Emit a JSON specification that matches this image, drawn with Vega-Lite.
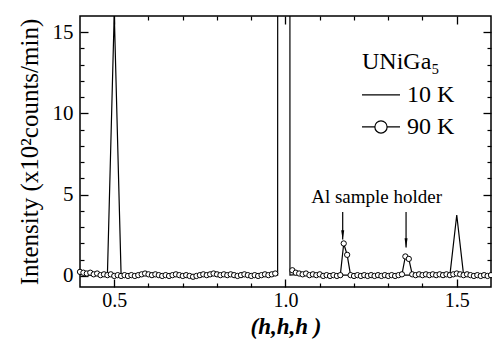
{
  "$schema": "https://vega.github.io/schema/vega-lite/v6.json",
  "width": 411,
  "height": 271,
  "autosize": {"type": "none"},
  "padding": {"left": 80, "top": 16, "right": 1, "bottom": 57},
  "background": "white",
  "datasets": {
    "scan": [
      {"h": 0.40, "v": 0.10, "T": "10 K", "seg": "10 K"},
      {"h": 0.42, "v": 0.05, "T": "10 K", "seg": "10 K"},
      {"h": 0.44, "v": 0.05, "T": "10 K", "seg": "10 K"},
      {"h": 0.46, "v": 0.05, "T": "10 K", "seg": "10 K"},
      {"h": 0.48, "v": 0.05, "T": "10 K", "seg": "10 K"},
      {"h": 0.50, "v": 16.2, "T": "10 K", "seg": "10 K"},
      {"h": 0.52, "v": 0.05, "T": "10 K", "seg": "10 K"},
      {"h": 0.54, "v": 0.05, "T": "10 K", "seg": "10 K"},
      {"h": 0.56, "v": 0.0, "T": "10 K", "seg": "10 K"},
      {"h": 0.58, "v": 0.05, "T": "10 K", "seg": "10 K"},
      {"h": 0.60, "v": 0.05, "T": "10 K", "seg": "10 K"},
      {"h": 0.62, "v": 0.05, "T": "10 K", "seg": "10 K"},
      {"h": 0.64, "v": 0.0, "T": "10 K", "seg": "10 K"},
      {"h": 0.66, "v": 0.05, "T": "10 K", "seg": "10 K"},
      {"h": 0.68, "v": 0.05, "T": "10 K", "seg": "10 K"},
      {"h": 0.70, "v": 0.0, "T": "10 K", "seg": "10 K"},
      {"h": 0.72, "v": 0.05, "T": "10 K", "seg": "10 K"},
      {"h": 0.74, "v": 0.0, "T": "10 K", "seg": "10 K"},
      {"h": 0.76, "v": 0.05, "T": "10 K", "seg": "10 K"},
      {"h": 0.78, "v": 0.05, "T": "10 K", "seg": "10 K"},
      {"h": 0.80, "v": 0.05, "T": "10 K", "seg": "10 K"},
      {"h": 0.82, "v": 0.05, "T": "10 K", "seg": "10 K"},
      {"h": 0.84, "v": 0.05, "T": "10 K", "seg": "10 K"},
      {"h": 0.86, "v": 0.0, "T": "10 K", "seg": "10 K"},
      {"h": 0.88, "v": 0.05, "T": "10 K", "seg": "10 K"},
      {"h": 0.90, "v": 0.0, "T": "10 K", "seg": "10 K"},
      {"h": 0.92, "v": 0.05, "T": "10 K", "seg": "10 K"},
      {"h": 0.94, "v": 0.05, "T": "10 K", "seg": "10 K"},
      {"h": 0.96, "v": 0.05, "T": "10 K", "seg": "10 K"},
      {"h": 0.977, "v": 0.05, "T": "10 K", "seg": "10 K"},
      {"h": 1.00, "v": 2000, "T": "10 K", "seg": "10 K"},
      {"h": 1.013, "v": 0.05, "T": "10 K", "seg": "10 K"},
      {"h": 1.04, "v": 0.1, "T": "10 K", "seg": "10 K"},
      {"h": 1.06, "v": 0.05, "T": "10 K", "seg": "10 K"},
      {"h": 1.08, "v": 0.05, "T": "10 K", "seg": "10 K"},
      {"h": 1.10, "v": 0.05, "T": "10 K", "seg": "10 K"},
      {"h": 1.12, "v": 0.0, "T": "10 K", "seg": "10 K"},
      {"h": 1.14, "v": 0.05, "T": "10 K", "seg": "10 K"},
      {"h": 1.16, "v": 0.05, "T": "10 K", "seg": "10 K"},
      {"h": 1.18, "v": 0.05, "T": "10 K", "seg": "10 K"},
      {"h": 1.20, "v": 0.0, "T": "10 K", "seg": "10 K"},
      {"h": 1.22, "v": 0.05, "T": "10 K", "seg": "10 K"},
      {"h": 1.24, "v": 0.0, "T": "10 K", "seg": "10 K"},
      {"h": 1.26, "v": 0.05, "T": "10 K", "seg": "10 K"},
      {"h": 1.28, "v": 0.05, "T": "10 K", "seg": "10 K"},
      {"h": 1.30, "v": 0.0, "T": "10 K", "seg": "10 K"},
      {"h": 1.32, "v": 0.05, "T": "10 K", "seg": "10 K"},
      {"h": 1.34, "v": 0.05, "T": "10 K", "seg": "10 K"},
      {"h": 1.36, "v": 0.05, "T": "10 K", "seg": "10 K"},
      {"h": 1.38, "v": 0.05, "T": "10 K", "seg": "10 K"},
      {"h": 1.40, "v": 0.05, "T": "10 K", "seg": "10 K"},
      {"h": 1.42, "v": 0.05, "T": "10 K", "seg": "10 K"},
      {"h": 1.44, "v": 0.05, "T": "10 K", "seg": "10 K"},
      {"h": 1.46, "v": 0.05, "T": "10 K", "seg": "10 K"},
      {"h": 1.48, "v": 0.05, "T": "10 K", "seg": "10 K"},
      {"h": 1.50, "v": 3.75, "T": "10 K", "seg": "10 K"},
      {"h": 1.52, "v": 0.05, "T": "10 K", "seg": "10 K"},
      {"h": 1.54, "v": 0.05, "T": "10 K", "seg": "10 K"},
      {"h": 1.56, "v": 0.0, "T": "10 K", "seg": "10 K"},
      {"h": 1.58, "v": 0.05, "T": "10 K", "seg": "10 K"},
      {"h": 1.60, "v": 0.05, "T": "10 K", "seg": "10 K"},

      {"h": 0.40, "v": 0.25, "T": "90 K", "seg": "90 K a"},
      {"h": 0.41, "v": 0.20, "T": "90 K", "seg": "90 K a"},
      {"h": 0.42, "v": 0.15, "T": "90 K", "seg": "90 K a"},
      {"h": 0.43, "v": 0.20, "T": "90 K", "seg": "90 K a"},
      {"h": 0.44, "v": 0.10, "T": "90 K", "seg": "90 K a"},
      {"h": 0.45, "v": 0.15, "T": "90 K", "seg": "90 K a"},
      {"h": 0.46, "v": 0.05, "T": "90 K", "seg": "90 K a"},
      {"h": 0.47, "v": 0.10, "T": "90 K", "seg": "90 K a"},
      {"h": 0.48, "v": 0.05, "T": "90 K", "seg": "90 K a"},
      {"h": 0.49, "v": 0.10, "T": "90 K", "seg": "90 K a"},
      {"h": 0.50, "v": 0.00, "T": "90 K", "seg": "90 K a"},
      {"h": 0.51, "v": 0.05, "T": "90 K", "seg": "90 K a"},
      {"h": 0.52, "v": 0.00, "T": "90 K", "seg": "90 K a"},
      {"h": 0.53, "v": 0.05, "T": "90 K", "seg": "90 K a"},
      {"h": 0.54, "v": 0.00, "T": "90 K", "seg": "90 K a"},
      {"h": 0.55, "v": 0.05, "T": "90 K", "seg": "90 K a"},
      {"h": 0.56, "v": 0.00, "T": "90 K", "seg": "90 K a"},
      {"h": 0.57, "v": 0.05, "T": "90 K", "seg": "90 K a"},
      {"h": 0.58, "v": 0.10, "T": "90 K", "seg": "90 K a"},
      {"h": 0.59, "v": 0.15, "T": "90 K", "seg": "90 K a"},
      {"h": 0.60, "v": 0.10, "T": "90 K", "seg": "90 K a"},
      {"h": 0.61, "v": 0.05, "T": "90 K", "seg": "90 K a"},
      {"h": 0.62, "v": 0.10, "T": "90 K", "seg": "90 K a"},
      {"h": 0.63, "v": 0.05, "T": "90 K", "seg": "90 K a"},
      {"h": 0.64, "v": 0.00, "T": "90 K", "seg": "90 K a"},
      {"h": 0.65, "v": 0.05, "T": "90 K", "seg": "90 K a"},
      {"h": 0.66, "v": 0.00, "T": "90 K", "seg": "90 K a"},
      {"h": 0.67, "v": 0.05, "T": "90 K", "seg": "90 K a"},
      {"h": 0.68, "v": 0.10, "T": "90 K", "seg": "90 K a"},
      {"h": 0.69, "v": 0.05, "T": "90 K", "seg": "90 K a"},
      {"h": 0.70, "v": 0.00, "T": "90 K", "seg": "90 K a"},
      {"h": 0.71, "v": 0.05, "T": "90 K", "seg": "90 K a"},
      {"h": 0.72, "v": 0.00, "T": "90 K", "seg": "90 K a"},
      {"h": 0.73, "v": -0.05, "T": "90 K", "seg": "90 K a"},
      {"h": 0.74, "v": 0.00, "T": "90 K", "seg": "90 K a"},
      {"h": 0.75, "v": 0.05, "T": "90 K", "seg": "90 K a"},
      {"h": 0.76, "v": 0.10, "T": "90 K", "seg": "90 K a"},
      {"h": 0.77, "v": 0.05, "T": "90 K", "seg": "90 K a"},
      {"h": 0.78, "v": 0.10, "T": "90 K", "seg": "90 K a"},
      {"h": 0.79, "v": 0.15, "T": "90 K", "seg": "90 K a"},
      {"h": 0.80, "v": 0.10, "T": "90 K", "seg": "90 K a"},
      {"h": 0.81, "v": 0.05, "T": "90 K", "seg": "90 K a"},
      {"h": 0.82, "v": 0.10, "T": "90 K", "seg": "90 K a"},
      {"h": 0.83, "v": 0.05, "T": "90 K", "seg": "90 K a"},
      {"h": 0.84, "v": 0.10, "T": "90 K", "seg": "90 K a"},
      {"h": 0.85, "v": 0.05, "T": "90 K", "seg": "90 K a"},
      {"h": 0.86, "v": 0.00, "T": "90 K", "seg": "90 K a"},
      {"h": 0.87, "v": 0.05, "T": "90 K", "seg": "90 K a"},
      {"h": 0.88, "v": 0.10, "T": "90 K", "seg": "90 K a"},
      {"h": 0.89, "v": 0.05, "T": "90 K", "seg": "90 K a"},
      {"h": 0.90, "v": 0.00, "T": "90 K", "seg": "90 K a"},
      {"h": 0.91, "v": 0.05, "T": "90 K", "seg": "90 K a"},
      {"h": 0.92, "v": 0.00, "T": "90 K", "seg": "90 K a"},
      {"h": 0.93, "v": 0.05, "T": "90 K", "seg": "90 K a"},
      {"h": 0.94, "v": 0.10, "T": "90 K", "seg": "90 K a"},
      {"h": 0.95, "v": 0.05, "T": "90 K", "seg": "90 K a"},
      {"h": 0.96, "v": 0.10, "T": "90 K", "seg": "90 K a"},
      {"h": 0.97, "v": 0.15, "T": "90 K", "seg": "90 K a"},

      {"h": 1.02, "v": 0.35, "T": "90 K", "seg": "90 K b"},
      {"h": 1.03, "v": 0.20, "T": "90 K", "seg": "90 K b"},
      {"h": 1.04, "v": 0.15, "T": "90 K", "seg": "90 K b"},
      {"h": 1.05, "v": 0.10, "T": "90 K", "seg": "90 K b"},
      {"h": 1.06, "v": 0.15, "T": "90 K", "seg": "90 K b"},
      {"h": 1.07, "v": 0.05, "T": "90 K", "seg": "90 K b"},
      {"h": 1.08, "v": 0.10, "T": "90 K", "seg": "90 K b"},
      {"h": 1.09, "v": 0.05, "T": "90 K", "seg": "90 K b"},
      {"h": 1.10, "v": 0.10, "T": "90 K", "seg": "90 K b"},
      {"h": 1.11, "v": 0.00, "T": "90 K", "seg": "90 K b"},
      {"h": 1.12, "v": 0.05, "T": "90 K", "seg": "90 K b"},
      {"h": 1.13, "v": 0.00, "T": "90 K", "seg": "90 K b"},
      {"h": 1.14, "v": 0.05, "T": "90 K", "seg": "90 K b"},
      {"h": 1.15, "v": 0.00, "T": "90 K", "seg": "90 K b"},
      {"h": 1.16, "v": 0.05, "T": "90 K", "seg": "90 K b"},
      {"h": 1.17, "v": 2.00, "T": "90 K", "seg": "90 K b"},
      {"h": 1.18, "v": 1.30, "T": "90 K", "seg": "90 K b"},
      {"h": 1.19, "v": 0.05, "T": "90 K", "seg": "90 K b"},
      {"h": 1.20, "v": 0.00, "T": "90 K", "seg": "90 K b"},
      {"h": 1.21, "v": 0.05, "T": "90 K", "seg": "90 K b"},
      {"h": 1.22, "v": 0.00, "T": "90 K", "seg": "90 K b"},
      {"h": 1.23, "v": 0.05, "T": "90 K", "seg": "90 K b"},
      {"h": 1.24, "v": 0.00, "T": "90 K", "seg": "90 K b"},
      {"h": 1.25, "v": 0.05, "T": "90 K", "seg": "90 K b"},
      {"h": 1.26, "v": 0.00, "T": "90 K", "seg": "90 K b"},
      {"h": 1.27, "v": 0.05, "T": "90 K", "seg": "90 K b"},
      {"h": 1.28, "v": 0.00, "T": "90 K", "seg": "90 K b"},
      {"h": 1.29, "v": 0.05, "T": "90 K", "seg": "90 K b"},
      {"h": 1.30, "v": 0.00, "T": "90 K", "seg": "90 K b"},
      {"h": 1.31, "v": 0.05, "T": "90 K", "seg": "90 K b"},
      {"h": 1.32, "v": 0.00, "T": "90 K", "seg": "90 K b"},
      {"h": 1.33, "v": 0.05, "T": "90 K", "seg": "90 K b"},
      {"h": 1.34, "v": 0.10, "T": "90 K", "seg": "90 K b"},
      {"h": 1.35, "v": 1.20, "T": "90 K", "seg": "90 K b"},
      {"h": 1.36, "v": 1.05, "T": "90 K", "seg": "90 K b"},
      {"h": 1.37, "v": 0.10, "T": "90 K", "seg": "90 K b"},
      {"h": 1.38, "v": 0.05, "T": "90 K", "seg": "90 K b"},
      {"h": 1.39, "v": 0.10, "T": "90 K", "seg": "90 K b"},
      {"h": 1.40, "v": 0.05, "T": "90 K", "seg": "90 K b"},
      {"h": 1.41, "v": 0.10, "T": "90 K", "seg": "90 K b"},
      {"h": 1.42, "v": 0.05, "T": "90 K", "seg": "90 K b"},
      {"h": 1.43, "v": 0.10, "T": "90 K", "seg": "90 K b"},
      {"h": 1.44, "v": 0.05, "T": "90 K", "seg": "90 K b"},
      {"h": 1.45, "v": 0.10, "T": "90 K", "seg": "90 K b"},
      {"h": 1.46, "v": 0.05, "T": "90 K", "seg": "90 K b"},
      {"h": 1.47, "v": 0.10, "T": "90 K", "seg": "90 K b"},
      {"h": 1.48, "v": 0.05, "T": "90 K", "seg": "90 K b"},
      {"h": 1.49, "v": 0.10, "T": "90 K", "seg": "90 K b"},
      {"h": 1.50, "v": 0.15, "T": "90 K", "seg": "90 K b"},
      {"h": 1.51, "v": 0.10, "T": "90 K", "seg": "90 K b"},
      {"h": 1.52, "v": 0.05, "T": "90 K", "seg": "90 K b"},
      {"h": 1.53, "v": 0.10, "T": "90 K", "seg": "90 K b"},
      {"h": 1.54, "v": 0.05, "T": "90 K", "seg": "90 K b"},
      {"h": 1.55, "v": 0.00, "T": "90 K", "seg": "90 K b"},
      {"h": 1.56, "v": 0.05, "T": "90 K", "seg": "90 K b"},
      {"h": 1.57, "v": 0.00, "T": "90 K", "seg": "90 K b"},
      {"h": 1.58, "v": 0.05, "T": "90 K", "seg": "90 K b"},
      {"h": 1.59, "v": 0.00, "T": "90 K", "seg": "90 K b"},
      {"h": 1.60, "v": 0.05, "T": "90 K", "seg": "90 K b"}
    ],
    "arrows": [
      {"h": 1.167, "top": 3.93, "tip": 2.25},
      {"h": 1.352, "top": 3.93, "tip": 1.75}
    ],
    "notes": [
      {"h": 1.266, "v": 4.86, "label": "Al sample holder"}
    ],
    "key": [
      {"T": "10 K", "v": 11.14},
      {"T": "90 K", "v": 9.17}
    ]
  },
  "layer": [
    {
      "data": {"name": "scan"},
      "mark": {"type": "line", "color": "black", "strokeWidth": 1.2, "clip": true},
      "encoding": {
        "x": {
          "field": "h", "type": "quantitative",
          "scale": {"domain": [0.4, 1.6], "nice": false, "zero": false},
          "axis": {
            "orient": "bottom",
            "values": [0.5, 1.0, 1.5],
            "format": ".1f",
            "domainOpacity": 0, "gridOpacity": 0,
            "ticks": true, "tickColor": "black", "tickWidth": 1.3,
            "offset": -8, "tickSize": 8,
            "labelPadding": 3,
            "labelColor": "black",
            "labelFont": "Liberation Serif",
            "labelFontSize": 20,
            "title": "(h,h,h )",
            "titleColor": "black",
            "titleFont": "Liberation Serif",
            "titleFontWeight": "bold",
            "titleFontStyle": "italic",
            "titleFontSize": 23,
            "titlePadding": 5
          }
        },
        "y": {
          "field": "v", "type": "quantitative",
          "scale": {"domain": [-0.68, 16], "nice": false, "zero": false},
          "axis": {
            "orient": "left",
            "values": [0, 5, 10, 15],
            "format": "d",
            "domainOpacity": 0, "gridOpacity": 0,
            "ticks": true, "tickColor": "black", "tickWidth": 1.3,
            "offset": -8, "tickSize": 8,
            "labelPadding": 7,
            "labelColor": "black",
            "labelFont": "Liberation Serif",
            "labelFontSize": 21,
            "title": "Intensity (x10²counts/min)",
            "titleColor": "black",
            "titleFont": "Liberation Serif",
            "titleFontWeight": "normal",
            "titleFontSize": 25,
            "titlePadding": 10
          }
        },
        "detail": {"field": "seg", "type": "nominal"}
      }
    },
    {
      "data": {"name": "scan"},
      "transform": [{"filter": "datum.T === '90 K'"}],
      "mark": {"type": "point", "filled": false, "fill": "white", "stroke": "black", "strokeWidth": 1, "size": 28, "opacity": 1},
      "encoding": {
        "x": {
          "field": "h", "type": "quantitative",
          "axis": {"orient": "top", "title": null, "labels": false, "values": [0.5, 1.0, 1.5], "domainOpacity": 0, "gridOpacity": 0, "ticks": true, "tickColor": "black", "tickWidth": 1.3, "offset": -8, "tickSize": 8}
        },
        "y": {
          "field": "v", "type": "quantitative",
          "axis": {"orient": "right", "title": null, "labels": false, "values": [0, 5, 10, 15], "domainOpacity": 0, "gridOpacity": 0, "ticks": true, "tickColor": "black", "tickWidth": 1.3, "offset": -8, "tickSize": 8}
        }
      }
    },
    {
      "data": {"name": "arrows"},
      "mark": {"type": "rule", "color": "black", "strokeWidth": 1.2},
      "encoding": {
        "x": {
          "field": "h", "type": "quantitative",
          "axis": {"orient": "bottom", "title": null, "labels": false, "values": [0.6, 0.7, 0.8, 0.9, 1.1, 1.2, 1.3, 1.4], "domainOpacity": 0, "gridOpacity": 0, "ticks": true, "tickColor": "black", "tickWidth": 1.2, "offset": -4, "tickSize": 4}
        },
        "y": {
          "field": "top", "type": "quantitative",
          "axis": {"orient": "left", "title": null, "labels": false, "values": [1, 2, 3, 4, 6, 7, 8, 9, 11, 12, 13, 14], "domainOpacity": 0, "gridOpacity": 0, "ticks": true, "tickColor": "black", "tickWidth": 1.2, "offset": -4, "tickSize": 4}
        },
        "y2": {"field": "tip"}
      }
    },
    {
      "data": {"name": "arrows"},
      "mark": {"type": "point", "shape": "M-0.32,-1L0,1L0.32,-1Z", "filled": true, "color": "black", "opacity": 1, "size": 90, "yOffset": -4.5},
      "encoding": {
        "x": {
          "field": "h", "type": "quantitative",
          "axis": {"orient": "top", "title": null, "labels": false, "values": [0.6, 0.7, 0.8, 0.9, 1.1, 1.2, 1.3, 1.4], "domainOpacity": 0, "gridOpacity": 0, "ticks": true, "tickColor": "black", "tickWidth": 1.2, "offset": -4, "tickSize": 4}
        },
        "y": {
          "field": "tip", "type": "quantitative",
          "axis": {"orient": "right", "title": null, "labels": false, "values": [1, 2, 3, 4, 6, 7, 8, 9, 11, 12, 13, 14], "domainOpacity": 0, "gridOpacity": 0, "ticks": true, "tickColor": "black", "tickWidth": 1.2, "offset": -4, "tickSize": 4}
        }
      }
    },
    {
      "data": {"name": "notes"},
      "mark": {"type": "text", "font": "Liberation Serif", "fontSize": 19, "color": "black", "align": "center", "baseline": "middle"},
      "encoding": {
        "x": {"field": "h", "type": "quantitative", "axis": null},
        "y": {"field": "v", "type": "quantitative", "axis": null},
        "text": {"field": "label"}
      }
    },
    {
      "data": {"values": [{}]},
      "mark": {"type": "text", "font": "Liberation Serif", "fontSize": 24, "color": "black", "align": "left", "baseline": "middle"},
      "encoding": {
        "x": {"datum": 1.2234, "type": "quantitative", "axis": null},
        "y": {"datum": 13.17, "type": "quantitative", "axis": null},
        "text": {"value": "UNiGa₅"}
      }
    },
    {
      "data": {"name": "key"},
      "mark": {"type": "rule", "color": "black", "strokeWidth": 1.2},
      "encoding": {
        "x": {"datum": 1.2234, "type": "quantitative", "axis": null},
        "x2": {"datum": 1.3343},
        "y": {"field": "v", "type": "quantitative", "axis": null}
      }
    },
    {
      "data": {"name": "key"},
      "transform": [{"filter": "datum.T === '90 K'"}],
      "mark": {"type": "point", "filled": false, "fill": "white", "stroke": "black", "strokeWidth": 1.2, "size": 150, "opacity": 1},
      "encoding": {
        "x": {"datum": 1.2788, "type": "quantitative", "axis": null},
        "y": {"field": "v", "type": "quantitative", "axis": null}
      }
    },
    {
      "data": {"name": "key"},
      "mark": {"type": "text", "font": "Liberation Serif", "fontSize": 24, "color": "black", "align": "left", "baseline": "middle"},
      "encoding": {
        "x": {"datum": 1.3547, "type": "quantitative", "axis": null},
        "y": {"field": "v", "type": "quantitative", "axis": null},
        "text": {"field": "T"}
      }
    }
  ],
  "resolve": {"axis": {"x": "independent", "y": "independent"}},
  "config": {
    "view": {"stroke": "black", "strokeWidth": 1.5}
  }
}
